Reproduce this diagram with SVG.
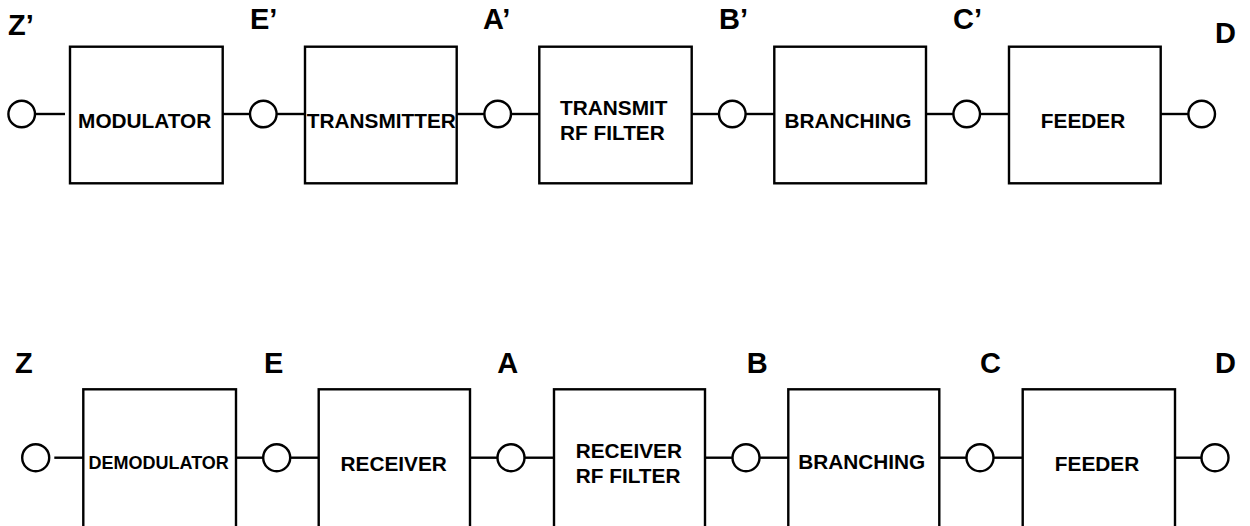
<svg xmlns="http://www.w3.org/2000/svg" width="1250" height="526" viewBox="0 0 1250 526">
<style>
.box{fill:#fff;stroke:#000;stroke-width:2.4}
.port{fill:#fff;stroke:#000;stroke-width:2.4}
.wire{stroke:#000;stroke-width:2.4;fill:none}
.t{font-family:"Liberation Sans",Arial,sans-serif;font-weight:bold;font-size:20.8px;fill:#000}
.lbl{font-family:"Liberation Sans",Arial,sans-serif;font-weight:bold;font-size:29px;fill:#000}
.c{text-anchor:middle}
</style>
<rect width="1250" height="526" fill="#fff"/>
<g id="connectors">
<line class="wire" x1="35" y1="114" x2="65" y2="114"/>
<line class="wire" x1="220" y1="114" x2="250" y2="114"/>
<line class="wire" x1="276.7" y1="114" x2="305" y2="114"/>
<line class="wire" x1="456.7" y1="114" x2="484.4" y2="114"/>
<line class="wire" x1="511" y1="114" x2="539.3" y2="114"/>
<line class="wire" x1="691.7" y1="114" x2="719" y2="114"/>
<line class="wire" x1="745.6" y1="114" x2="774.3" y2="114"/>
<line class="wire" x1="926" y1="114" x2="953.4" y2="114"/>
<line class="wire" x1="980" y1="114" x2="1009" y2="114"/>
<line class="wire" x1="1160.7" y1="114" x2="1188.4" y2="114"/>
<line class="wire" x1="54.3" y1="457.7" x2="83.3" y2="457.7"/>
<line class="wire" x1="236" y1="457.7" x2="263.2" y2="457.7"/>
<line class="wire" x1="290.2" y1="457.7" x2="318.7" y2="457.7"/>
<line class="wire" x1="470" y1="457.7" x2="497.5" y2="457.7"/>
<line class="wire" x1="524.5" y1="457.7" x2="554" y2="457.7"/>
<line class="wire" x1="705" y1="457.7" x2="732.5" y2="457.7"/>
<line class="wire" x1="759.5" y1="457.7" x2="788.3" y2="457.7"/>
<line class="wire" x1="939.3" y1="457.7" x2="966.5" y2="457.7"/>
<line class="wire" x1="993.5" y1="457.7" x2="1022.7" y2="457.7"/>
<line class="wire" x1="1175" y1="457.7" x2="1201.5" y2="457.7"/>
</g>
<g id="ports">
<circle class="port" cx="21.7" cy="114" r="13.3"/>
<circle class="port" cx="263.3" cy="114" r="13.3"/>
<circle class="port" cx="497.7" cy="114" r="13.3"/>
<circle class="port" cx="732.3" cy="114" r="13.3"/>
<circle class="port" cx="966.7" cy="114" r="13.3"/>
<circle class="port" cx="1201.7" cy="114" r="13.3"/>
<circle class="port" cx="35.7" cy="457.7" r="13.5"/>
<circle class="port" cx="276.7" cy="457.7" r="13.5"/>
<circle class="port" cx="511" cy="457.7" r="13.5"/>
<circle class="port" cx="746" cy="457.7" r="13.5"/>
<circle class="port" cx="980" cy="457.7" r="13.5"/>
<circle class="port" cx="1215" cy="457.7" r="13.5"/>
</g>
<g id="labels">
<text class="lbl" x="8" y="35">Z’</text>
<text class="lbl" x="250" y="29">E’</text>
<text class="lbl" x="483" y="29">A’</text>
<text class="lbl" x="719" y="29">B’</text>
<text class="lbl" x="953" y="28.5">C’</text>
<text class="lbl" x="1215" y="43">D</text>
<text class="lbl" x="15" y="372.7">Z</text>
<text class="lbl" x="264" y="372.7">E</text>
<text class="lbl" x="497.3" y="372.7">A</text>
<text class="lbl" x="746.7" y="372.7">B</text>
<text class="lbl" x="980" y="372.5">C</text>
<text class="lbl" x="1215" y="372.5">D</text>
</g>
<g id="modulator">
<rect class="box" x="70" y="46.7" width="152.7" height="136.6"/>
<text class="t c" x="144.7" y="128">MODULATOR</text>
</g>
<g id="transmitter">
<rect class="box" x="305" y="46.7" width="151.7" height="136.6"/>
<text class="t c" x="381.3" y="127.7">TRANSMITTER</text>
</g>
<g id="transmit-rf-filter">
<rect class="box" x="539.3" y="46.7" width="152.4" height="136.6"/>
<text class="t" x="560" y="115">TRANSMIT</text>
<text class="t" x="560" y="140">RF FILTER</text>
</g>
<g id="branching-tx">
<rect class="box" x="774.3" y="46.7" width="151.7" height="136.6"/>
<text class="t c" x="848" y="128.3">BRANCHING</text>
</g>
<g id="feeder-tx">
<rect class="box" x="1009" y="46.7" width="151.7" height="136.6"/>
<text class="t c" x="1083" y="128">FEEDER</text>
</g>
<g id="demodulator">
<rect class="box" x="83.3" y="389.3" width="152.7" height="160"/>
<text class="t c" x="158.7" y="469.3" style="font-size:18px">DEMODULATOR</text>
</g>
<g id="receiver">
<rect class="box" x="318.7" y="389.3" width="151.3" height="160"/>
<text class="t c" x="393.7" y="470.5">RECEIVER</text>
</g>
<g id="receiver-rf-filter">
<rect class="box" x="554" y="389.3" width="151" height="160"/>
<text class="t" x="575.7" y="458.3">RECEIVER</text>
<text class="t" x="575.7" y="483.3">RF FILTER</text>
</g>
<g id="branching-rx">
<rect class="box" x="788.3" y="389.3" width="151" height="160"/>
<text class="t c" x="861.7" y="469">BRANCHING</text>
</g>
<g id="feeder-rx">
<rect class="box" x="1022.7" y="389.3" width="152.3" height="160"/>
<text class="t c" x="1097" y="470.7">FEEDER</text>
</g>
</svg>
